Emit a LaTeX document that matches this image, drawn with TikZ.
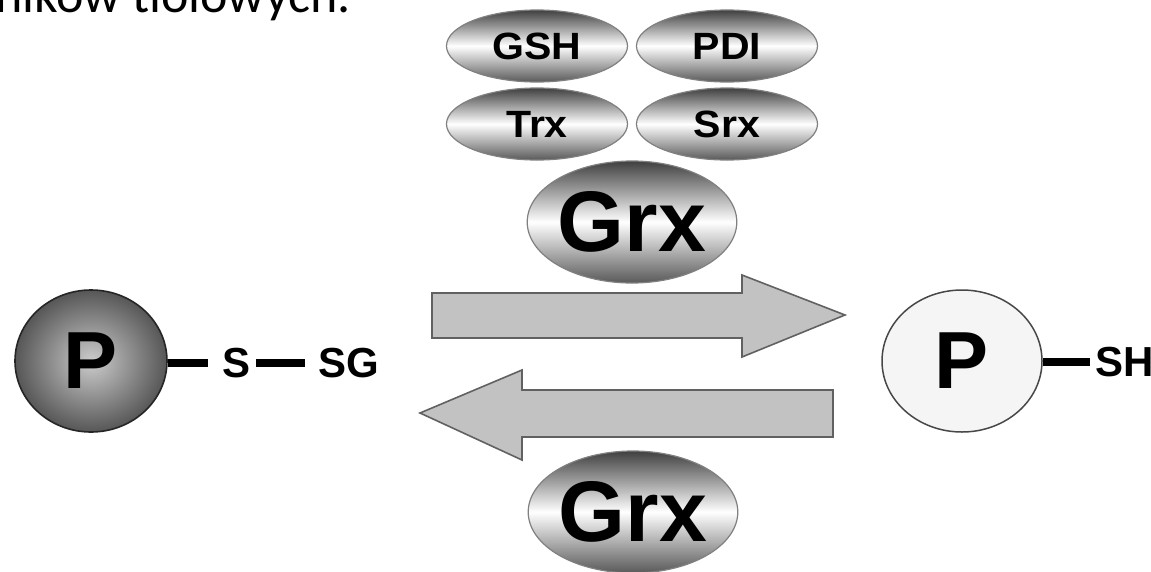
\documentclass[tikz,border=0pt]{standalone}
\usepackage{fontspec}
\setmainfont{Liberation Sans}
\newfontfamily\carl{Carlito}
\usetikzlibrary{shapes.geometric}
\tikzset{
  pill/.style={ellipse, inner sep=0pt, minimum width=181pt, minimum height=72pt,
    draw=black!50, line width=1.2pt,
    top color=black!75, bottom color=black!65, middle color=white,
    font=\bfseries\fontsize{38}{38}\selectfont},
  bigpill/.style={pill, minimum height=122pt, font=\bfseries\fontsize{86}{86}\selectfont},
  bondlabel/.style={inner sep=0pt, font=\bfseries\fontsize{42}{42}\selectfont},
  bond/.style={line width=8pt},
  blockarrow/.style={fill=black!24, draw=black!62, line width=1.6pt, line join=miter},
}
\begin{document}
\begin{tikzpicture}[x=1pt, y=-1pt]
\useasboundingbox (0,0) rectangle (1151,571);
\clip (0,0) rectangle (1151,571);
\fill[white] (0,0) rectangle (1151,571);

% clipped heading text
\node[anchor=base west, inner sep=0pt, font=\carl\fontsize{52}{60}\selectfont] (head) at (-5,12) {ników tiolowych.};

% cofactors
\node[pill] (gsh) at (537,46) {\scalebox{1.08}[1]{GSH}};
\node[pill] (pdi) at (727,46) {\scalebox{1.08}[1]{PDI}};
\node[pill] (trx) at (537,124) {\scalebox{1.08}[1]{Trx}};
\node[pill] (srx) at (727,124) {\scalebox{1.08}[1]{Srx}};
\node[bigpill] (grx1) at (632,222) {Grx};
\node[bigpill] (grx2) at (633,512) {Grx};

% block arrows
\draw[blockarrow] (432,293) -- (742,293) -- (742,275) -- (845,315) -- (742,357) -- (742,338) -- (432,338) -- cycle;
\draw[blockarrow] (833,390) -- (522,390) -- (522,370) -- (420,413) -- (522,460) -- (522,437) -- (833,437) -- cycle;

% glutathionylated protein
\node[ellipse, inner sep=0pt, minimum width=152pt, minimum height=142pt,
      inner color=black!20, outer color=black!66, draw=black!85, line width=1.6pt,
      font=\bfseries\fontsize{81}{81}\selectfont] (p1) at (91,361) {P};
\node[bondlabel] (s) at (237,363) {S};
\node[bondlabel] (sg) at (349,363) {SG};
\draw[bond] (p1.east |- s) -- ([xshift=-15pt]s.west);
\draw[bond] ([xshift=5pt]s.east) -- ([xshift=-13pt]sg.west);

% reduced protein
\node[ellipse, inner sep=0pt, minimum width=160pt, minimum height=142pt,
      fill=black!4, draw=black!72, line width=1.5pt,
      font=\bfseries\fontsize{81}{81}\selectfont] (p2) at (962,361) {P};
\node[bondlabel, anchor=west] (sh) at (1095,362) {SH};
\draw[bond] (p2.east |- sh) -- ([xshift=-5pt]sh.west);
\end{tikzpicture}
\end{document}
